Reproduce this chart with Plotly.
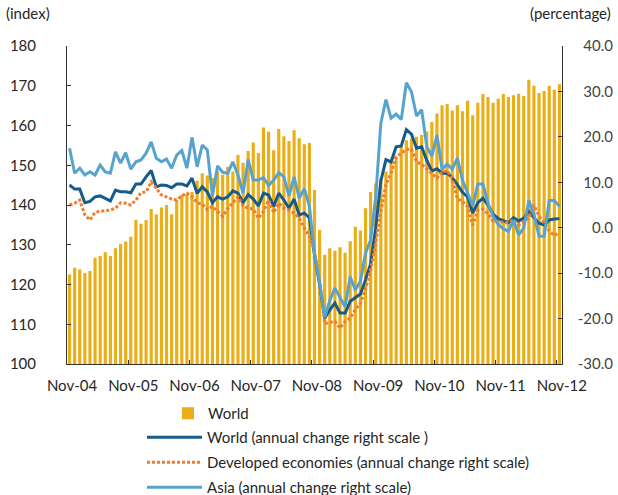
import plotly.graph_objects as go

# ---------------- data ----------------
tick_labels = ["Nov-04", "Nov-05", "Nov-06", "Nov-07", "Nov-08",
               "Nov-09", "Nov-10", "Nov-11", "Nov-12"]

# World trade volume index (left scale), monthly Nov-04 .. Nov-12
world_index = [
    122.5, 124.2, 123.8, 122.9, 123.4, 126.7, 127.2, 128.1, 127.2, 129.1, 130.2, 130.8,
    132.0, 136.2, 135.3, 136.2, 139.0, 137.7, 139.4, 140.0, 137.7, 141.2, 142.6, 142.8,
    143.3, 146.1, 148.0, 147.4, 146.8, 148.5, 147.6, 149.6, 148.4, 152.6, 150.6, 153.6,
    155.7, 153.1, 159.5, 158.4, 153.8, 159.1, 157.3, 156.1, 158.8, 156.8, 155.3, 155.6,
    143.8, 133.7, 127.5, 129.1, 128.5, 129.4, 128.0, 130.9, 134.5, 133.6, 139.2, 143.3,
    145.4, 146.7, 148.4, 151.3, 152.1, 154.6, 156.3, 156.7, 157.2, 157.6, 158.5, 160.9,
    163.0, 165.1, 165.4, 163.8, 165.1, 163.6, 166.2, 162.6, 165.7, 167.9, 167.2, 165.7,
    166.7, 167.9, 167.2, 167.6, 168.0, 167.4, 171.5, 170.0, 168.2, 168.7, 170.0, 169.0,
    170.4]

# annual change, % (right scale)
world_change = [
    9.4, 8.5, 8.5, 5.5, 5.8, 6.8, 7.0, 6.5, 5.9, 8.3, 7.9, 7.9,
    7.7, 9.6, 9.6, 11.2, 12.6, 9.0, 9.4, 9.3, 8.8, 9.6, 9.6, 9.2,
    10.9, 7.6, 9.0, 7.9, 5.5, 6.8, 6.3, 6.8, 8.1, 7.6, 5.5, 7.3,
    6.3, 4.8, 7.6, 7.2, 4.7, 7.6, 6.1, 4.3, 6.3, 2.8, 3.2, 2.2,
    -6.0, -12.5, -19.9, -18.1, -16.6, -18.8, -18.8, -16.2, -15.3, -14.6, -11.5, -8.0,
    0.0, 10.3, 15.0, 14.5, 17.8, 18.0, 21.6, 20.6, 17.5, 17.8, 14.8, 12.5,
    13.0, 12.0, 12.0, 11.0, 9.5, 7.8, 6.8, 3.2, 5.5, 6.5, 5.0, 3.0,
    2.0, 1.5, 1.1, 2.2, 1.5, 2.1, 3.6, 2.2, 1.0, 0.6, 1.7, 1.9,
    2.0]

developed_change = [
    5.0, 5.4, 6.1, 2.8, 1.7, 3.4, 3.6, 3.7, 3.9, 4.3, 5.5, 5.4,
    5.0, 6.1, 7.7, 7.9, 10.1, 8.7, 7.2, 6.8, 6.3, 6.1, 7.0, 7.6,
    6.8, 5.5, 5.2, 4.0, 4.7, 3.6, 2.5, 4.2, 5.6, 6.8, 4.8, 4.3,
    4.1, 2.1, 3.6, 6.1, 3.3, 5.4, 4.3, 3.9, 3.2, 2.1, -0.1, -1.8,
    -5.2, -11.5, -21.1, -20.9, -20.6, -22.1, -20.6, -19.9, -18.0, -16.6, -13.5, -9.3,
    -3.4, 3.5, 9.5, 12.0, 15.6, 16.4, 17.2, 17.3, 14.5, 14.0, 13.0, 12.0,
    10.9, 12.2, 12.6, 10.8, 6.3, 5.8, 4.6, 0.6, 3.8, 4.1, 3.0, 1.4,
    1.3, 1.2, 1.1, 1.7, 0.6, 1.4, 2.2, 5.0, 2.5, 1.1, -0.7, -1.7,
    -1.1]

asia_change = [
    17.5, 12.0, 13.1, 11.6, 12.3, 11.6, 13.8, 12.3, 12.0, 16.7, 14.2, 16.5,
    12.9, 14.5, 14.9, 16.4, 18.9, 15.3, 14.5, 15.1, 13.1, 16.0, 17.0, 13.1,
    19.9, 13.4, 18.2, 17.1, 7.0, 13.6, 12.2, 12.0, 14.5, 11.6, 7.6, 15.0,
    10.5, 10.5, 11.0, 9.3, 10.5, 12.1, 11.2, 7.0, 11.2, 6.5, 8.6, 4.8,
    -5.8, -12.0, -19.7, -16.0, -13.3, -15.5, -17.4, -10.8, -13.7, -11.8, -5.6, -2.7,
    6.8, 23.0, 28.2, 24.1, 25.0, 23.8, 31.9, 29.9, 24.6, 26.0, 17.8, 15.8,
    20.4, 12.9, 14.0, 12.9, 15.3, 10.5, 7.6, 4.8, 9.6, 9.6, 5.4, 2.5,
    0.7, -0.2, -0.8, 1.7, -1.6, -0.1, 6.0, 3.0, -1.9, -1.9, 6.0, 6.0,
    4.7]

left_ticks = [100, 110, 120, 130, 140, 150, 160, 170, 180]
right_ticks = [-30, -20, -10, 0, 10, 20, 30, 40]

# ---------------- style ----------------
BAR = "#EAAE16"
DARK = "#175B8A"
LIGHT = "#58A3CE"
ORANGE = "#EF7C33"
AX = "#333333"
TXT = "#262626"
FONT = "Lato"

W, H = 618, 495
ML, MR, MT, MB = 67, 2, 46, 131
PLOT_W = 495
PW = W - ML - MR
PH = H - MT - MB
dom_end = PLOT_W / PW


def py(pix):
    """paper y for a pixel row"""
    return (H - MB - pix) / PH


def px(pix):
    """paper x for a pixel column"""
    return (pix - ML) / PW


n = len(world_index)
x = list(range(n))
tickpos = [-0.5 + 12 * k for k in range(len(tick_labels))]

fig = go.Figure()
fig.add_trace(go.Bar(x=x, y=world_index, name="World", marker=dict(color=BAR, line_width=0),
                     yaxis="y", legend="legend2"))
fig.add_trace(go.Scatter(x=x, y=world_change, name="World (annual change right scale )",
                         mode="lines", line=dict(color=DARK, width=3), yaxis="y2",
                         legendgroup="g1"))
fig.add_trace(go.Scatter(x=x, y=developed_change,
                         name="Developed economies (annual change right scale)",
                         mode="lines", line=dict(color=ORANGE, width=3, dash="3px,2px"),
                         yaxis="y3", legendgroup="g2"))
fig.add_trace(go.Scatter(x=x, y=asia_change, name="Asia (annual change right scale)",
                         mode="lines", line=dict(color=LIGHT, width=3), yaxis="y3",
                         legendgroup="g3"))

common = dict(showgrid=False, zeroline=False)
fig.update_layout(
    width=W, height=H,
    margin=dict(l=ML, r=MR, t=MT, b=MB, pad=0, autoexpand=False),
    paper_bgcolor="white", plot_bgcolor="white",
    bargap=0.38,
    font=dict(family=FONT, size=15, color=TXT),
    xaxis=dict(domain=[0, dom_end], range=[-0.5, n - 0.5], tickmode="array",
               tickvals=tickpos, ticktext=tick_labels, ticks="inside", ticklen=4,
               tickcolor=AX, showline=True, linecolor=AX, linewidth=1,
               ticklabelshift=5, ticklabelstandoff=8, **common),
    yaxis=dict(range=[100, 180], tickmode="array", tickvals=left_ticks,
               ticks="inside", ticklen=4, tickcolor=AX, showline=True, linecolor=AX,
               linewidth=1, ticklabelstandoff=27, **common),
    yaxis2=dict(overlaying="y", anchor="x", side="right", range=[-30, 40],
                tickmode="array", tickvals=right_ticks, ticks="inside", ticklen=4,
                tickcolor=AX, showline=True, linecolor=AX, linewidth=1,
                showticklabels=False, **common),
    yaxis3=dict(overlaying="y", anchor="free", position=1, side="right",
                range=[-30, 40], tickmode="array", tickvals=right_ticks,
                ticktext=[f"{v:.1f}" for v in right_ticks],
                ticklabelposition="inside", ticklabeloverflow="allow",
                showline=False, ticks="", **common),
    legend=dict(x=px(142), y=py(421),
                xanchor="left", yanchor="top", orientation="v",
                traceorder="grouped", tracegroupgap=2.5, itemwidth=55,
                bgcolor="rgba(0,0,0,0)", font=dict(family=FONT, size=15, color=TXT)),
    legend2=dict(x=px(168), y=py(397),
                 xanchor="left", yanchor="top", orientation="v", itemwidth=30,
                 bgcolor="rgba(0,0,0,0)", font=dict(family=FONT, size=15, color=TXT)),
    showlegend=True,
    annotations=[
        dict(text="(index)", xref="paper", yref="paper",
             x=px(4), y=py(13), xanchor="left", yanchor="middle", showarrow=False,
             font=dict(family=FONT, size=15, color=TXT)),
        dict(text="(percentage)", xref="paper", yref="paper",
             x=px(613), y=py(13), xanchor="right", yanchor="middle", showarrow=False,
             font=dict(family=FONT, size=15, color=TXT)),
    ],
)

fig.write_html("out.html", config={"displayModeBar": False},
               post_script="document.body.style.margin='0';document.body.style.overflow='hidden';")
